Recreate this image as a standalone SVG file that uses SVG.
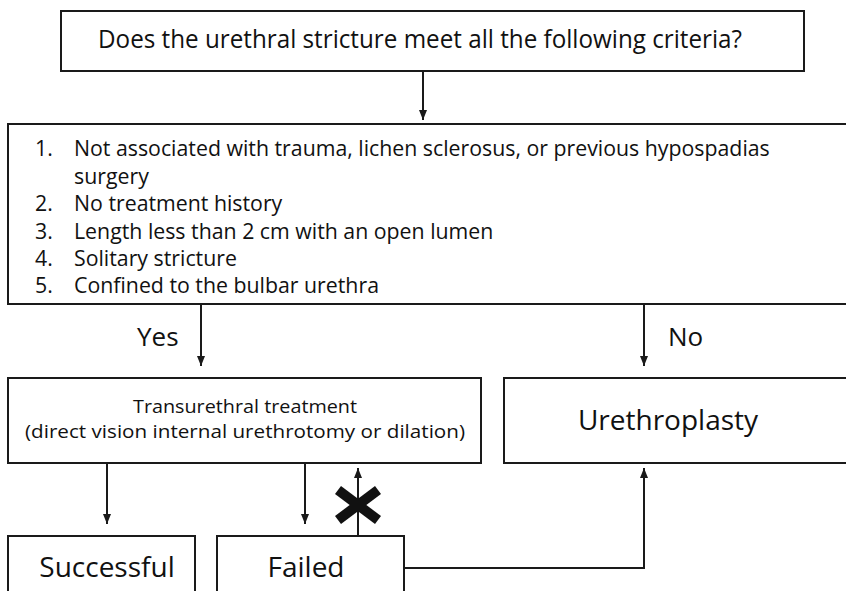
<svg xmlns="http://www.w3.org/2000/svg" width="846" height="591" viewBox="0 0 846 591">
<style>
  .box { fill: #fff; stroke: #1a1a1a; stroke-width: 2; }
  .t { font-family: "Open Sans", "Noto Sans", "Liberation Sans", sans-serif; fill: #111; }
  .c { stroke: #1a1a1a; stroke-width: 2; fill: none; }
</style>
<defs>
  <marker id="ah" markerUnits="userSpaceOnUse" markerWidth="10" markerHeight="12" refX="10" refY="5" orient="auto">
    <path d="M0,1 L10,5 L0,9 z" fill="#1a1a1a"/>
  </marker>
</defs>
<rect width="846" height="591" fill="#fff"/>
<g id="question">
  <rect class="box" x="61" y="11" width="743" height="60"/>
  <text class="t" x="98" y="48" font-size="25" textLength="644" lengthAdjust="spacingAndGlyphs">Does the urethral stricture meet all the following criteria?</text>
</g>
<g id="criteria">
  <rect class="box" x="8" y="124" width="845" height="180"/>
  <g class="t" font-size="21.3">
    <text x="35" y="156">1.</text><text x="74" y="156">Not associated with trauma, lichen sclerosus, or previous hypospadias</text>
    <text x="74" y="183.5">surgery</text>
    <text x="35" y="211">2.</text><text x="74" y="211">No treatment history</text>
    <text x="35" y="238.5">3.</text><text x="74" y="238.5">Length less than 2 cm with an open lumen</text>
    <text x="35" y="266">4.</text><text x="74" y="266">Solitary stricture</text>
    <text x="35" y="293">5.</text><text x="74" y="293">Confined to the bulbar urethra</text>
  </g>
</g>
<g id="transurethral">
  <rect class="box" x="8" y="378" width="473" height="85"/>
  <text class="t" x="245" y="413" font-size="18.3" text-anchor="middle" textLength="224" lengthAdjust="spacingAndGlyphs">Transurethral treatment</text>
  <text class="t" x="245" y="438" font-size="18.3" text-anchor="middle" textLength="440" lengthAdjust="spacingAndGlyphs">(direct vision internal urethrotomy or dilation)</text>
</g>
<g id="urethroplasty">
  <rect class="box" x="504" y="378" width="349" height="85"/>
  <text class="t" x="668" y="430" font-size="28" text-anchor="middle">Urethroplasty</text>
</g>
<g id="successful">
  <rect class="box" x="8" y="536" width="187" height="70"/>
  <text class="t" x="107" y="577" font-size="28" text-anchor="middle">Successful</text>
</g>
<g id="failed">
  <rect class="box" x="217" y="536" width="187" height="70"/>
  <text class="t" x="306" y="577" font-size="28" text-anchor="middle">Failed</text>
</g>
<g id="connectors">
  <path class="c" d="M423,71 V120" marker-end="url(#ah)"/>
  <path class="c" d="M201,305 V366" marker-end="url(#ah)"/>
  <path class="c" d="M644,305 V366" marker-end="url(#ah)"/>
  <path class="c" d="M107,463 V524" marker-end="url(#ah)"/>
  <path class="c" d="M305,463 V524" marker-end="url(#ah)"/>
  <path class="c" d="M358,536 V468" marker-end="url(#ah)"/>
  <path class="c" d="M404,568 H644 V468" marker-end="url(#ah)"/>
  <text class="t" x="137" y="346" font-size="26">Yes</text>
  <text class="t" x="668" y="346" font-size="26">No</text>
  <g id="cross" stroke="#111" stroke-width="10">
    <line x1="338" y1="490" x2="378" y2="520"/>
    <line x1="378" y1="490" x2="338" y2="520"/>
  </g>
</g>
</svg>
